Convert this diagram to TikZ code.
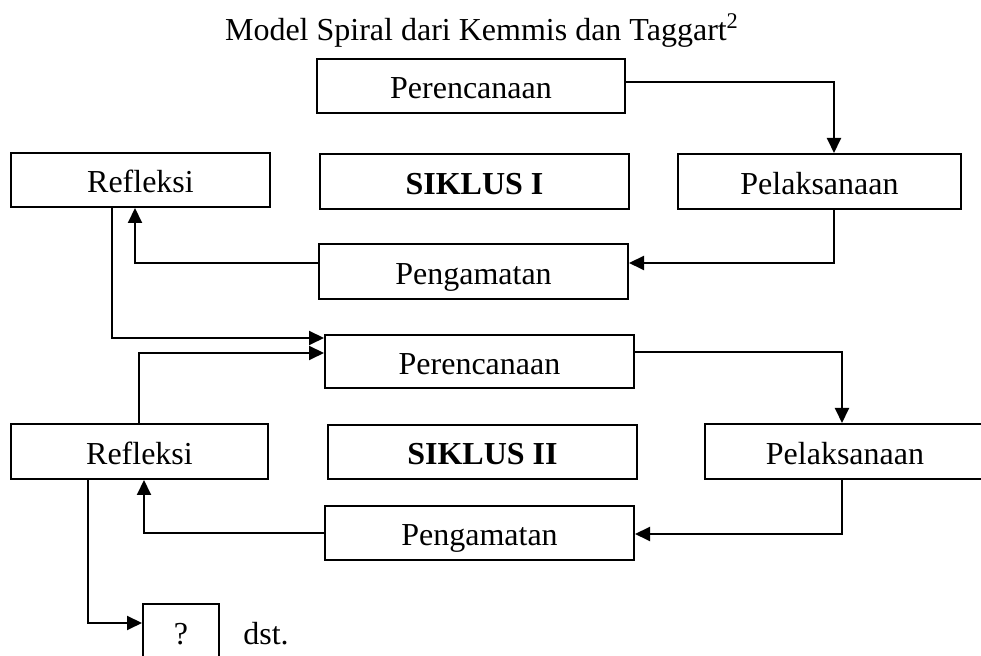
\documentclass[tikz,border=0pt]{standalone}
\usepackage{fontspec}
\setmainfont{Liberation Serif}
\usetikzlibrary{arrows.meta}
\tikzset{
  box/.style={draw, line width=1pt, inner sep=0pt, text height=13pt, text depth=0pt,
              font=\fontsize{16}{19}\selectfont},
  arr/.style={line width=1pt, -{Triangle[length=7.5pt,width=7pt]}},
  lbl/.style={inner sep=0pt, font=\fontsize{16}{19}\selectfont}
}
\begin{document}
\begin{tikzpicture}[x=0.5pt,y=-0.5pt]
\clip (0,0) rectangle (981,656);
\node[lbl, anchor=base] (title) at (482,41) {Model Spiral dari Kemmis dan Taggart\textsuperscript{2}};
% Siklus I
\node[box, minimum width=154pt, minimum height=27pt] (P1) at (471,86) {Perencanaan};
\node[box, minimum width=129.5pt, minimum height=27pt] (R1) at (140.5,180) {Refleksi};
\node[box, minimum width=154.5pt, minimum height=27.5pt, font=\fontsize{16}{19}\selectfont\bfseries] (S1) at (474.5,181.5) {SIKLUS I};
\node[box, minimum width=141.5pt, minimum height=27.5pt] (L1) at (819.5,181.5) {Pelaksanaan};
\node[box, minimum width=154.5pt, minimum height=27.5pt] (G1) at (473.5,271.5) {Pengamatan};
% Siklus II
\node[box, minimum width=154.5pt, minimum height=26.5pt] (P2) at (479.5,361.5) {Perencanaan};
\node[box, minimum width=128.5pt, minimum height=27.5pt] (R2) at (139.5,451.5) {Refleksi};
\node[box, minimum width=154.5pt, minimum height=27pt, font=\fontsize{16}{19}\selectfont\bfseries] (S2) at (482.5,452) {SIKLUS II};
\node[box, minimum width=140pt, minimum height=27.5pt] (L2) at (845,451.5) {Pelaksanaan};
\node[box, minimum width=154.5pt, minimum height=27pt] (G2) at (479.5,533) {Pengamatan};
% next
\node[box, minimum width=38pt, minimum height=28pt] (Q) at (181,632) {?};
\node[lbl, anchor=base west] (dst) at (243,645) {dst.};
% connectors
\draw[arr] ([shift={(0,-4)}]P1.east) -| ([shift={(14.5,0)}]L1.north);
\draw[arr] ([shift={(14,0)}]L1.south) |- ([shift={(0,-8.5)}]G1.east);
\draw[arr] ([shift={(0,-8.5)}]G1.west) -| ([shift={(-5.5,0)}]R1.south);
\draw[arr] ([shift={(-28.5,0)}]R1.south) |- ([shift={(0,-23.5)}]P2.west);
\draw[arr] ([shift={(-0.5,0)}]R2.north) |- ([shift={(0,-8.5)}]P2.west);
\draw[arr] ([shift={(0,-9.5)}]P2.east) -| ([shift={(-3,0)}]L2.north);
\draw[arr] ([shift={(-3,0)}]L2.south) |- ([shift={(0,1)}]G2.east);
\draw[arr] (G2.west) -| ([shift={(4.5,0)}]R2.south);
\draw[arr] ([shift={(-51.5,0)}]R2.south) |- ([shift={(0,-9)}]Q.west);
\end{tikzpicture}
\end{document}
